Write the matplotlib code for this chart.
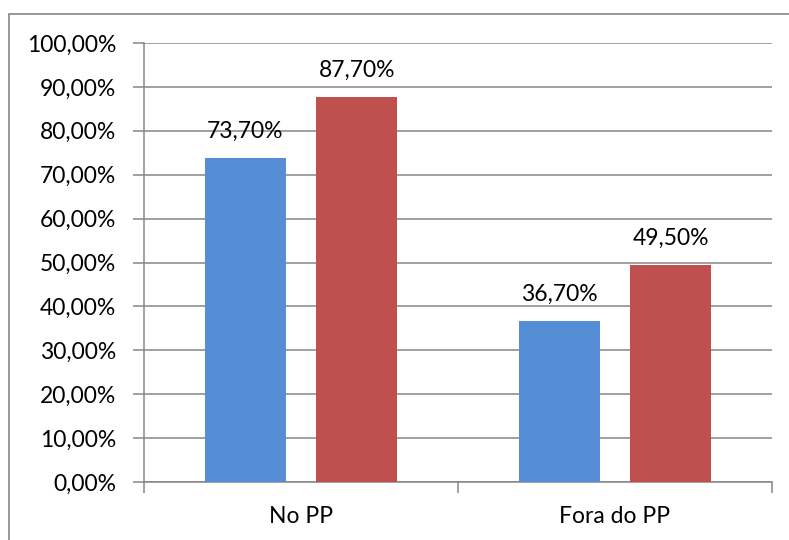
import matplotlib.pyplot as plt
import numpy as np
from matplotlib.patches import Rectangle

plt.rcParams['font.family'] = ['Lato', 'DejaVu Sans']

# dados
categorias = ['No PP', 'Fora do PP']
serie1 = [73.7, 36.7]
serie2 = [87.7, 49.5]
yticks = np.arange(0, 101, 10)

azul = '#558ED5'
vermelho = '#C0504D'
cinza = '#868686'
fs = 16.5

fig = plt.figure(figsize=(7.89, 5.40), dpi=100)
ax = fig.add_axes([144 / 789, 1 - 482 / 540, (772 - 144) / 789, (482 - 43) / 540])

# borda do gráfico (só esquerda e topo visíveis)
fig.patches.append(Rectangle((9 / 789, -0.1), 1.2, 1 - 14 / 540 + 0.1,
                             transform=fig.transFigure, fill=False,
                             edgecolor=cinza, linewidth=1.2))

x = np.arange(len(categorias))
w = 0.258
off = 0.178
b1 = ax.bar(x - off, serie1, w, color=azul, zorder=3)
b2 = ax.bar(x + off, serie2, w, color=vermelho, zorder=3)

for bars, vals in [(b1, serie1), (b2, serie2)]:
    for b, v in zip(bars, vals):
        ax.text(b.get_x() + b.get_width() / 2, v + 6.1, ('%.2f%%' % v).replace('.', ','),
                ha='center', va='center', fontsize=fs, color='black')

ax.set_xlim(-0.5, 1.5)
ax.set_ylim(0, 100)
ax.set_yticks(yticks)
ax.set_yticklabels([('%.2f%%' % v).replace('.', ',') for v in yticks], fontsize=fs)
ax.yaxis.grid(True, color=cinza, linewidth=1.1, zorder=0)
ax.set_axisbelow(True)

# ticks do eixo x entre categorias
ax.set_xticks([-0.5, 0.5, 1.5])
ax.set_xticklabels([])
ax.set_xticks(x, minor=True)
ax.set_xticklabels(categorias, minor=True, fontsize=fs)
ax.tick_params(axis='x', which='major', length=8, color=cinza, width=1.1)
ax.tick_params(axis='x', which='minor', length=0, pad=17)
ax.tick_params(axis='y', length=8, color=cinza, width=1.1, pad=12)

for s in ['top', 'right']:
    ax.spines[s].set_visible(False)
for s in ['left', 'bottom']:
    ax.spines[s].set_color(cinza)
    ax.spines[s].set_linewidth(1.1)

fig.savefig('out.png', dpi=100)
